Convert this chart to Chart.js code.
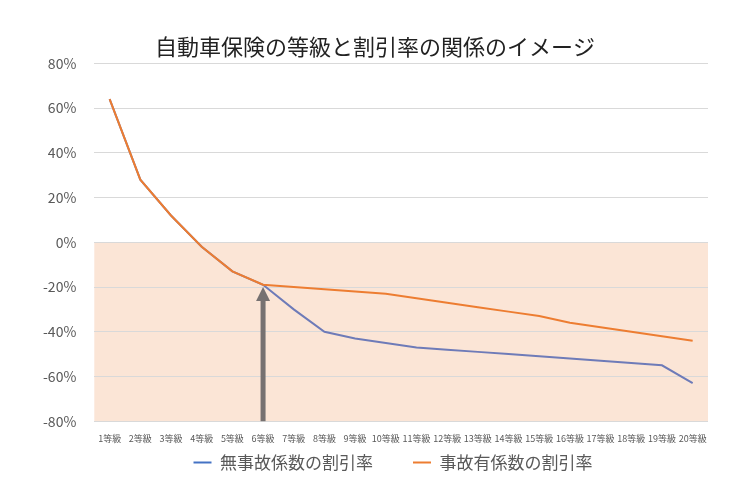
<!DOCTYPE html>
<html>
<head>
<meta charset="utf-8">
<script src="https://cdn.jsdelivr.net/npm/chart.js@4/dist/chart.umd.min.js"></script>
<style>
  body { margin: 0; background: #fff; }
  #wrap { width: 750px; height: 500px; }
</style>
</head>
<body>
<div id="wrap"><canvas id="chart" width="750" height="500"></canvas></div>
<script>
// Data
const grades = ["1等級","2等級","3等級","4等級","5等級","6等級","7等級","8等級","9等級","10等級",
  "11等級","12等級","13等級","14等級","15等級","16等級","17等級","18等級","19等級","20等級"];
const noAccidentRates = [64, 28, 12, -2, -13, -19, -30, -40, -43, -45, -47, -48, -49, -50, -51, -52, -53, -54, -55, -63];
const accidentRates = [64, 28, 12, -2, -13, -19, -20, -21, -22, -23, -25, -27, -29, -31, -33, -36, -38, -40, -42, -44];
const yTicks = [-80, -60, -40, -20, 0, 20, 40, 60, 80];
const shadeRange = [0, -80];
const arrowGrade = "6等級";
const arrowTarget = -20;

const fontFamily = "'Noto Sans CJK JP', 'Noto Sans', sans-serif";

// Peach band drawn behind grid lines
const shadePlugin = {
    id: "shade",
    beforeDraw(chart) {
        const { ctx, chartArea, scales } = chart;
        const top = scales.y.getPixelForValue(shadeRange[0]);
        const bottom = scales.y.getPixelForValue(shadeRange[1]);
        ctx.save();
        ctx.fillStyle = "#FBE5D6";
        ctx.fillRect(chartArea.left, top, chartArea.right - chartArea.left, bottom - top);
        ctx.restore();
    }
};

// Gray arrow pointing at the 6等級 point
const arrowPlugin = {
    id: "arrow",
    afterDatasetsDraw(chart) {
        const { ctx, scales } = chart;
        const x = scales.x.getPixelForValue(grades.indexOf(arrowGrade));
        const yStart = scales.y.getPixelForValue(shadeRange[1]);
        const yEnd = scales.y.getPixelForValue(arrowTarget);
        ctx.save();
        ctx.fillStyle = "#767171";
        ctx.fillRect(x - 2.5, yEnd + 12, 5, yStart - yEnd - 12);
        ctx.beginPath();
        ctx.moveTo(x, yEnd);
        ctx.lineTo(x - 7, yEnd + 14);
        ctx.lineTo(x + 7, yEnd + 14);
        ctx.closePath();
        ctx.fill();
        ctx.restore();
    }
};

// Nudge the legend a bit to the right (centred on the plot, like Excel)
const legendShift = {
    id: "legendShift",
    afterLayout(chart) {
        if (chart.legend) {
            chart.legend.left += 18;
            chart.legend.right += 18;
        }
    }
};

new Chart(document.getElementById("chart").getContext("2d"), {
    type: "line",
    data: {
        labels: grades,
        datasets: [
            {
                label: "無事故係数の割引率",
                data: noAccidentRates,
                borderColor: "#6E7BB8",
                backgroundColor: "#4472C4",
                borderWidth: 2,
                pointRadius: 0,
                tension: 0,
                order: 1
            },
            {
                label: "事故有係数の割引率",
                data: accidentRates,
                borderColor: "#ED7D31",
                backgroundColor: "#ED7D31",
                borderWidth: 2,
                pointRadius: 0,
                tension: 0,
                order: 0
            }
        ]
    },
    options: {
        responsive: false,
        animation: false,
        layout: { padding: { left: 42, right: 42, top: 10, bottom: 19 } },
        plugins: {
            title: {
                display: true,
                text: "自動車保険の等級と割引率の関係のイメージ",
                color: "#222",
                font: { family: fontFamily, size: 22, weight: "normal" },
                padding: { top: 23, bottom: 4 }
            },
            legend: {
                position: "bottom",
                labels: {
                    color: "#595959",
                    font: { family: fontFamily, size: 17 },
                    boxWidth: 18,
                    boxHeight: 2,
                    padding: 6,
                    generateLabels(chart) {
                        const colors = ["#4472C4", "#ED7D31"];
                        return chart.data.datasets.map((ds, i) => ({
                            text: ds.label + (i === 0 ? "　　" : ""),
                            fillStyle: colors[i],
                            strokeStyle: colors[i],
                            lineWidth: 0,
                            datasetIndex: i,
                            fontColor: "#595959"
                        }));
                    }
                }
            },
            tooltip: { enabled: false }
        },
        scales: {
            x: {
                offset: true,
                grid: { display: false },
                border: { display: false },
                ticks: {
                    color: "#595959",
                    font: { family: fontFamily, size: 9 },
                    maxRotation: 0,
                    autoSkip: false,
                    padding: 4
                }
            },
            y: {
                min: -80,
                max: 80,
                afterBuildTicks(axis) {
                    axis.ticks = yTicks.map(v => ({ value: v }));
                },
                afterFit(axis) {
                    axis.width -= 17;
                },
                grid: { color: "#D9D9D9", drawTicks: false },
                border: { display: false },
                ticks: {
                    color: "#595959",
                    font: { family: fontFamily, size: 14 },
                    padding: 18,
                    callback: v => v + "%"
                }
            }
        }
    },
    plugins: [shadePlugin, arrowPlugin, legendShift]
});
</script>
</body>
</html>
